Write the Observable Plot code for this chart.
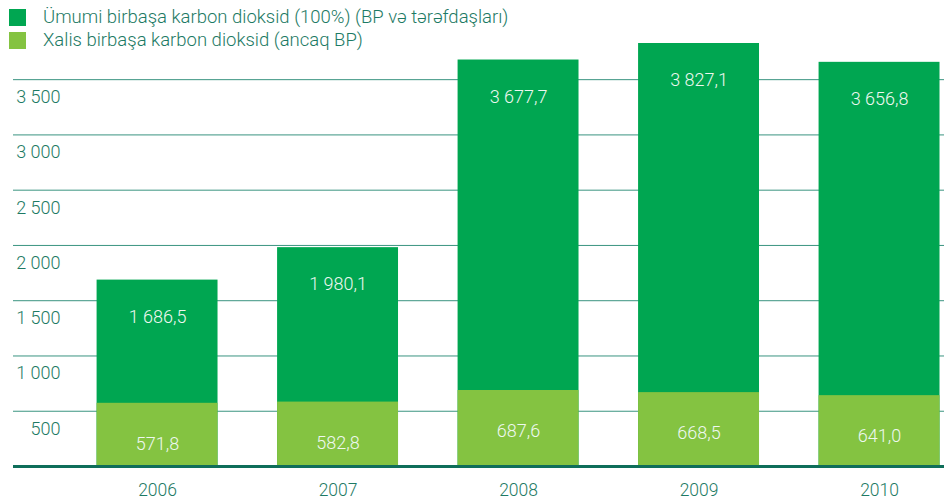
<!DOCTYPE html>
<html>
<head>
<meta charset="utf-8">
<script src="https://cdn.jsdelivr.net/npm/d3@7"></script>
<script src="https://cdn.jsdelivr.net/npm/@observablehq/plot@0.6"></script>
<style>
  html, body { margin: 0; padding: 0; background: #fff; }
  #wrap { position: relative; width: 944px; height: 500px; font-family: Roboto, "Noto Sans", sans-serif; }
  #legend { position: relative; height: 40px; overflow: visible; z-index: 2; }
  .item { position: absolute; left: 9px; display: flex; align-items: center; height: 17px; }
  .sw { width: 17px; height: 17px; margin-right: 17px; }
  .lab { font-size: 18.5px; font-weight: 300; color: #1d7a64; white-space: nowrap; line-height: 17px; }
  #chart svg { display: block; }
</style>
</head>
<body>
<div id="wrap">
  <div id="legend"></div>
  <div id="chart"></div>
</div>
<script>
const years = ["2006", "2007", "2008", "2009", "2010"];
const totalCO2 = [1686.5, 1980.1, 3677.7, 3827.1, 3656.8];
const netCO2 = [571.8, 582.8, 687.6, 668.5, 641.0];
const yTicks = [500, 1000, 1500, 2000, 2500, 3000, 3500];
const seriesNames = [
  "Ümumi birbaşa karbon dioksid (100%) (BP və tərəfdaşları)",
  "Xalis birbaşa karbon dioksid (ancaq BP)"
];
const seriesColors = ["#00a651", "#84c341"];

const rows = years.map((y, i) => ({year: y, total: totalCO2[i], net: netCO2[i]}));

const loc = d3.formatLocale({decimal: ",", thousands: " ", grouping: [3], currency: ["", ""]});
const fmtVal = loc.format(",.1f");
const fmtTick = loc.format(",d");

// legend
const legend = document.getElementById("legend");
seriesNames.forEach((name, i) => {
  const it = document.createElement("div");
  it.className = "item";
  it.style.top = (9 + i * 23) + "px";
  it.innerHTML = `<div class="sw" style="background:${seriesColors[i]}"></div><div class="lab">${name}</div>`;
  legend.appendChild(it);
});

const teal = "#1d7a64";
const chart = Plot.plot({
  width: 944,
  height: 460,
  marginTop: 6,
  marginBottom: 34,
  marginLeft: 13,
  marginRight: 0,
  style: {fontFamily: "Roboto, 'Noto Sans', sans-serif", color: teal, background: "transparent"},
  x: {domain: years, paddingInner: 0.33, paddingOuter: 0.244, align: 0.949, round: false, label: null},
  y: {domain: [0, 3800], axis: null},
  marks: [
    Plot.ruleY(yTicks, {stroke: "#3a9480", strokeWidth: 1}),
    Plot.barY(rows, {x: "year", y: "total", fill: seriesColors[0]}),
    Plot.barY(rows, {x: "year", y: "net", fill: seriesColors[1]}),
    Plot.ruleY([0], {stroke: "#0f6e5a", strokeWidth: 3}),
    Plot.text(rows, {x: "year", y: "total", text: d => fmtVal(d.total), dy: 37, fill: "#eef8f0", fontSize: 18, fontWeight: 300}),
    Plot.text(rows, {x: "year", y: "net", text: d => fmtVal(d.net), dy: 41, fill: "#eef8f0", fontSize: 18, fontWeight: 300}),
    Plot.text(yTicks, {y: d => d, text: d => fmtTick(d), frameAnchor: "left", dx: 47, dy: 17.6, textAnchor: "end", fill: teal, fontSize: 18, fontWeight: 300}),
    Plot.axisX({tickSize: 0, tickPadding: 17, fontSize: 17.5, fontWeight: 300, fill: teal, label: null})
  ]
});
document.getElementById("chart").appendChild(chart);
</script>
</body>
</html>
